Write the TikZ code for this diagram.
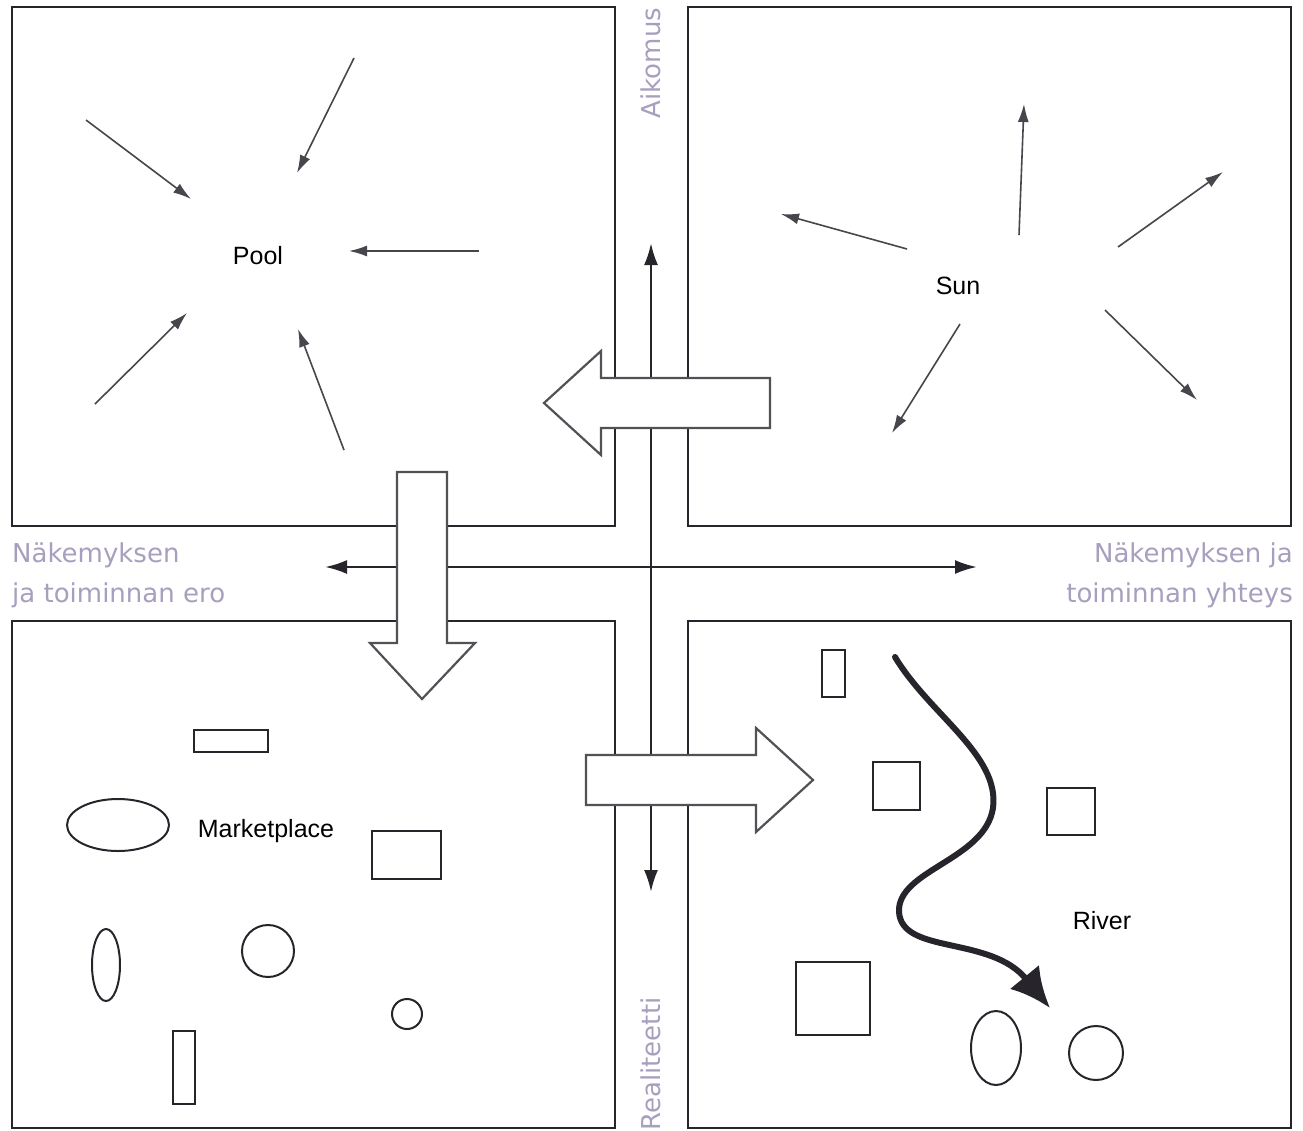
\documentclass[tikz,border=0pt]{standalone}
\usepackage{fontspec}
\setmainfont{Liberation Sans}
\newfontfamily\labelfont{DejaVu Sans}
\usetikzlibrary{arrows.meta}
\definecolor{axislbl}{RGB}{168,158,190}
\definecolor{ink}{RGB}{40,36,44}
\tikzset{
  panel/.style={draw=ink, line width=2.5pt},
  axis/.style={draw=ink, line width=2.5pt, -{Latex[length=22pt,width=14pt]}},
  ray/.style={draw=ink!85, line width=1.6pt, -{Latex[length=18pt,width=11pt]}},
  blockarrow/.style={draw=ink!80, line width=2.2pt, fill=white, line join=miter},
  axlabel/.style={text=axislbl, font=\labelfont\fontsize{26}{40}\selectfont, inner sep=0pt},
  place/.style={font=\fontsize{25}{30}\selectfont, inner sep=0pt},
  outline/.style={draw=ink, line width=2pt},
  river/.style={draw=ink, line width=6pt, line cap=round, -{Latex[length=40pt,width=38pt]}}
}
\begin{document}
\begin{tikzpicture}[x=1pt,y=-1pt]
\useasboundingbox (0,0) rectangle (1303,1130);
% panels
\draw[panel] (12,7) rectangle (615,526);
\draw[panel] (688,7) rectangle (1291,526);
\draw[panel] (12,621) rectangle (615,1128);
\draw[panel] (688,621) rectangle (1291,1128);
% axes
\coordinate (c) at (651,567);
\coordinate (up) at (651,243);
\coordinate (down) at (651,892);
\coordinate (left) at (325,567);
\coordinate (right) at (977,567);
\draw[axis] (c) -- (up);
\draw[axis] (c) -- (down);
\draw[axis] (c) -- (left);
\draw[axis] (c) -- (right);
% axis labels
\node[axlabel, rotate=90] (aik) at (651,63) {Aikomus};
\node[axlabel, rotate=90] (real) at (651,1064) {Realiteetti};
\node[axlabel, align=left, anchor=north west] (ero) at (12,543) {Näkemyksen\\ja toiminnan ero};
\node[axlabel, align=right, anchor=north east] (yht) at (1293,543) {Näkemyksen ja\\toiminnan yhteys};
% block arrows
\draw[blockarrow] (770,378) -- (601,378) -- (601,351) -- (544,403) -- (601,455) -- (601,428) -- (770,428) -- cycle;
\draw[blockarrow] (397,472) -- (447,472) -- (447,643) -- (475,643) -- (422,699) -- (370,643) -- (397,643) -- cycle;
\draw[blockarrow] (586,755) -- (756,755) -- (756,728) -- (813,780) -- (756,832) -- (756,805) -- (586,805) -- cycle;
% Pool
\node[place] (pool) at (258,256) {Pool};
\coordinate (p1) at (86,120); \coordinate (p1t) at (191,199);
\coordinate (p2) at (354,58); \coordinate (p2t) at (297,173);
\coordinate (p3) at (479,251); \coordinate (p3t) at (349,251);
\coordinate (p4) at (95,404); \coordinate (p4t) at (187,313);
\coordinate (p5) at (344,450); \coordinate (p5t) at (298,329);
\draw[ray] (p1) -- (p1t);
\draw[ray] (p2) -- (p2t);
\draw[ray] (p3) -- (p3t);
\draw[ray] (p4) -- (p4t);
\draw[ray] (p5) -- (p5t);
% Sun
\node[place] (sun) at (958,286) {Sun};
\coordinate (s1) at (1019,235); \coordinate (s1t) at (1024,104);
\coordinate (s2) at (907,249); \coordinate (s2t) at (781,214);
\coordinate (s3) at (1118,247); \coordinate (s3t) at (1223,172);
\coordinate (s4) at (960,324); \coordinate (s4t) at (892,433);
\coordinate (s5) at (1105,310); \coordinate (s5t) at (1197,400);
\draw[ray] (s1) -- (s1t);
\draw[ray] (s2) -- (s2t);
\draw[ray] (s3) -- (s3t);
\draw[ray] (s4) -- (s4t);
\draw[ray] (s5) -- (s5t);
% Marketplace
\node[place] (mk) at (266,831) {Marketplace};
\draw[outline] (194,730) rectangle (268,752);
\draw[outline] (118,825) ellipse [x radius=51, y radius=26];
\draw[outline] (372,831) rectangle (441,879);
\draw[outline] (106,965) ellipse [x radius=14, y radius=36];
\draw[outline] (268,951) circle [radius=26];
\draw[outline] (407,1014) circle [radius=15];
\draw[outline] (173,1031) rectangle (195,1104);
% River
\node[place] (rv) at (1102,921) {River};
\draw[outline] (822,650) rectangle (845,697);
\draw[outline] (873,762) rectangle (920,810);
\draw[outline] (1047,788) rectangle (1095,835);
\draw[outline] (796,962) rectangle (870,1035);
\draw[outline] (996,1048) ellipse [x radius=25, y radius=37];
\draw[outline] (1096,1053) circle [radius=27];
\coordinate (r0) at (895,657);
\coordinate (r1) at (993,808);
\coordinate (r2) at (899,912);
\coordinate (r3) at (1050,1008);
\draw[river] (r0) .. controls (930,715) and (1000,755) .. (r1)
  .. controls (985,860) and (897,870) .. (r2)
  .. controls (902,955) and (990,935) .. (r3);
\end{tikzpicture}
\end{document}
